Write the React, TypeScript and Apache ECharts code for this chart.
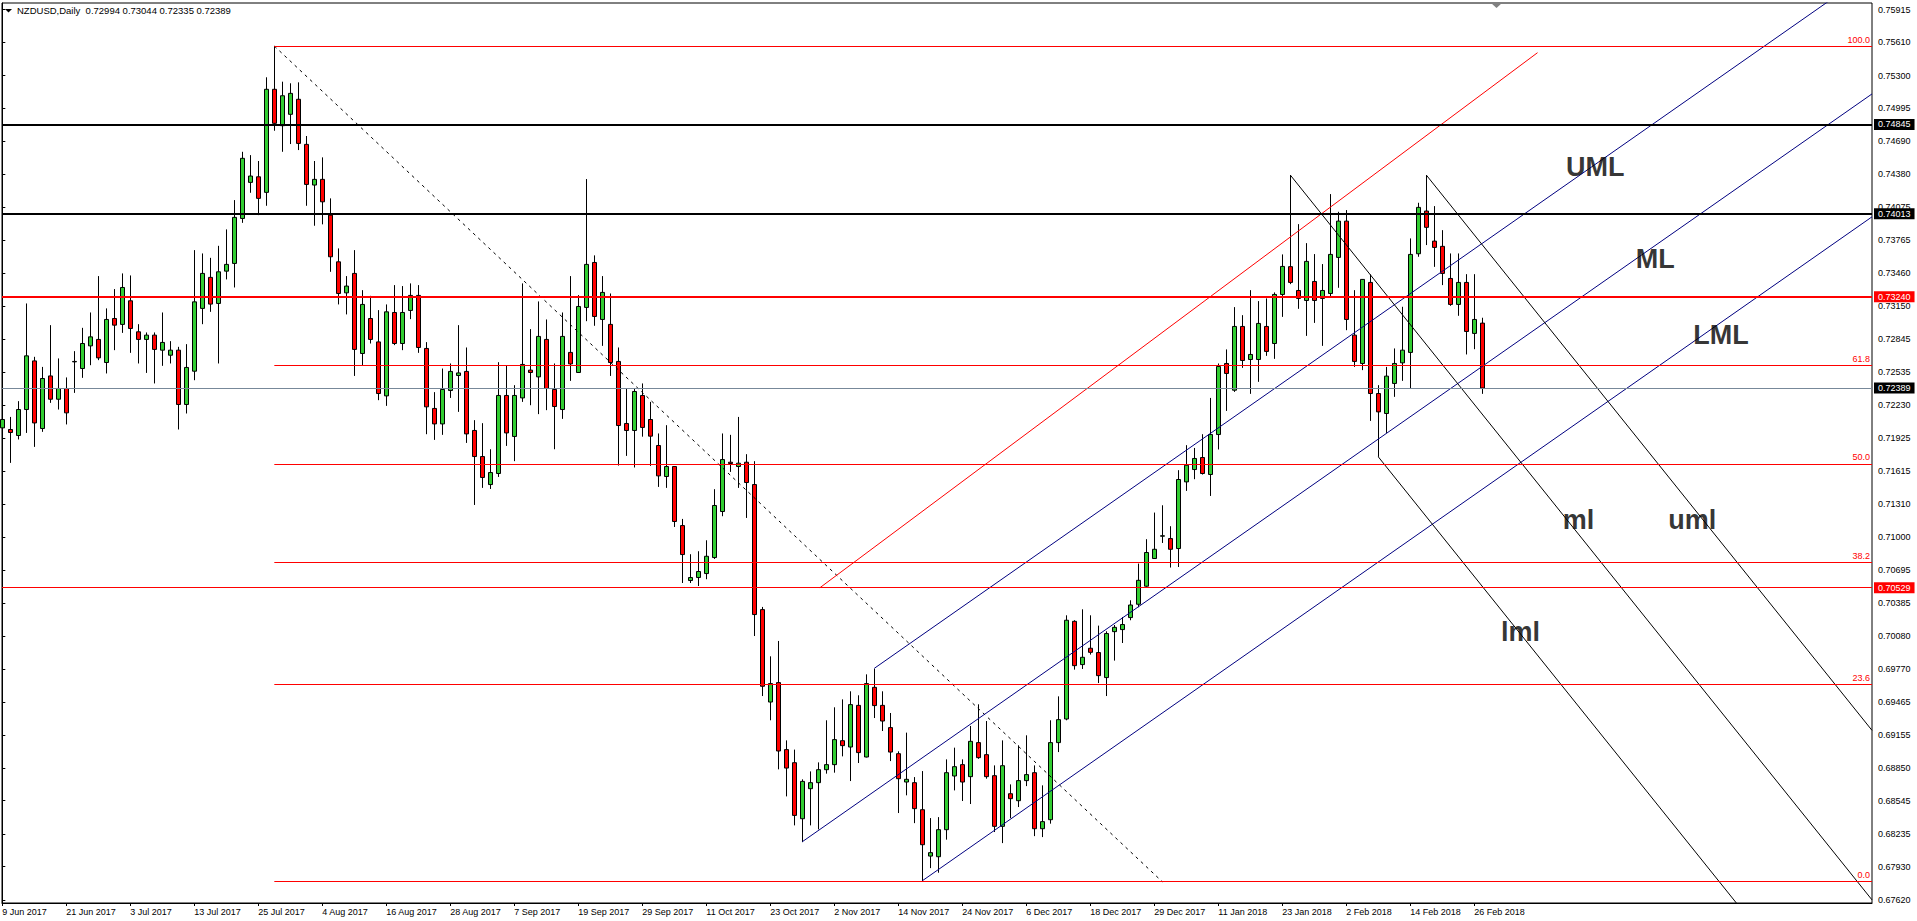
import React, { useEffect, useRef } from 'react';
import * as echarts from 'echarts';

const FONT = '"Liberation Sans", Arial, sans-serif';

// one label every 8 daily bars, starting at bar 0
const dateLabels = [
  '9 Jun 2017', '21 Jun 2017', '3 Jul 2017', '13 Jul 2017', '25 Jul 2017', '4 Aug 2017',
  '16 Aug 2017', '28 Aug 2017', '7 Sep 2017', '19 Sep 2017', '29 Sep 2017', '11 Oct 2017',
  '23 Oct 2017', '2 Nov 2017', '14 Nov 2017', '24 Nov 2017', '6 Dec 2017', '18 Dec 2017',
  '29 Dec 2017', '11 Jan 2018', '23 Jan 2018', '2 Feb 2018', '14 Feb 2018', '26 Feb 2018',
];

const priceTicks = [
  0.75915, 0.7561, 0.753, 0.74995, 0.7469, 0.7438, 0.74075, 0.73765, 0.7346, 0.7315,
  0.72845, 0.72535, 0.7223, 0.71925, 0.71615, 0.7131, 0.71, 0.70695, 0.70385, 0.7008,
  0.6977, 0.69465, 0.69155, 0.6885, 0.68545, 0.68235, 0.6793, 0.6762,
];

// NZDUSD daily, [open, high, low, close]
const ohlc: number[][] = [
  [0.72018, 0.72189, 0.71878, 0.72096], [0.72003, 0.7212, 0.71692, 0.71975], [0.71947, 0.72267, 0.7191, 0.72189],
  [0.72189, 0.73177, 0.71971, 0.72689], [0.72642, 0.7268, 0.71841, 0.72064], [0.72012, 0.72586, 0.71981, 0.72478],
  [0.72502, 0.72975, 0.72251, 0.72285], [0.72285, 0.72665, 0.72189, 0.72385], [0.72385, 0.72488, 0.7205, 0.72158],
  [0.72633, 0.72733, 0.72344, 0.72637], [0.72571, 0.7295, 0.72484, 0.72804], [0.72782, 0.73093, 0.72602, 0.72866],
  [0.72842, 0.73432, 0.72649, 0.7267], [0.72627, 0.73131, 0.72525, 0.73028], [0.73037, 0.73311, 0.72742, 0.72975],
  [0.72982, 0.73457, 0.72903, 0.73326], [0.73202, 0.73438, 0.72717, 0.72944], [0.72913, 0.72984, 0.72618, 0.72842],
  [0.72842, 0.72907, 0.7253, 0.72882], [0.72882, 0.72907, 0.72432, 0.72749], [0.72742, 0.73093, 0.72596, 0.72814],
  [0.72695, 0.72826, 0.72618, 0.72742], [0.72742, 0.72773, 0.72003, 0.72236], [0.72236, 0.72798, 0.72152, 0.72581],
  [0.72546, 0.73674, 0.72462, 0.73192], [0.73131, 0.73643, 0.72984, 0.73457], [0.7342, 0.73602, 0.73099, 0.73171],
  [0.73177, 0.73714, 0.72618, 0.73472], [0.73478, 0.73867, 0.73401, 0.73541], [0.7355, 0.7414, 0.73326, 0.73979],
  [0.73969, 0.7459, 0.73928, 0.74529], [0.74305, 0.74559, 0.74208, 0.74364], [0.74357, 0.74504, 0.74, 0.74156],
  [0.74212, 0.75284, 0.74087, 0.75172], [0.75172, 0.75575, 0.74786, 0.74855], [0.74833, 0.75243, 0.7459, 0.75112],
  [0.74939, 0.75228, 0.74662, 0.75134], [0.75079, 0.75237, 0.74606, 0.74668], [0.74659, 0.74737, 0.74087, 0.74286],
  [0.7428, 0.74504, 0.73901, 0.74333], [0.74333, 0.74538, 0.73914, 0.74124], [0.74, 0.74156, 0.73472, 0.73612],
  [0.73565, 0.7369, 0.73168, 0.7327], [0.73276, 0.73432, 0.73075, 0.73339], [0.73457, 0.73674, 0.72502, 0.72749],
  [0.72711, 0.73301, 0.72602, 0.73168], [0.73037, 0.73248, 0.72804, 0.72842], [0.72819, 0.73115, 0.72276, 0.72338],
  [0.72316, 0.73168, 0.72223, 0.73099], [0.73093, 0.73348, 0.72789, 0.72804], [0.72804, 0.73339, 0.72742, 0.73093],
  [0.73112, 0.73364, 0.73031, 0.73252], [0.73252, 0.73348, 0.72717, 0.72767], [0.72758, 0.72817, 0.71959, 0.72214],
  [0.72199, 0.72351, 0.71906, 0.72055], [0.72055, 0.72571, 0.71953, 0.72376], [0.72366, 0.72618, 0.72297, 0.72544],
  [0.72506, 0.72975, 0.72167, 0.7253], [0.72544, 0.72767, 0.71878, 0.71962], [0.71994, 0.7209, 0.713, 0.71751],
  [0.71751, 0.72062, 0.71459, 0.71556], [0.7149, 0.71819, 0.71449, 0.71602], [0.71593, 0.7263, 0.71561, 0.7232],
  [0.7232, 0.72599, 0.7185, 0.71971], [0.71938, 0.72416, 0.71708, 0.7232], [0.72297, 0.73364, 0.7226, 0.72609],
  [0.72556, 0.72938, 0.72229, 0.72534], [0.72493, 0.73196, 0.72146, 0.7287], [0.72842, 0.73028, 0.72183, 0.72385],
  [0.72376, 0.72618, 0.71819, 0.72217], [0.72189, 0.73093, 0.72102, 0.7287], [0.72721, 0.73432, 0.72456, 0.72614],
  [0.72534, 0.73255, 0.7253, 0.73149], [0.7314, 0.74336, 0.73012, 0.73541], [0.73559, 0.73625, 0.72969, 0.73056],
  [0.73028, 0.73432, 0.72782, 0.7328], [0.72982, 0.7327, 0.72502, 0.72627], [0.72637, 0.72767, 0.71667, 0.7204],
  [0.72059, 0.72385, 0.71757, 0.71994], [0.71994, 0.72385, 0.71649, 0.72357], [0.7232, 0.72432, 0.71936, 0.72022],
  [0.72096, 0.7226, 0.71664, 0.71941], [0.71854, 0.71966, 0.71468, 0.71571], [0.71565, 0.72043, 0.71459, 0.71658],
  [0.71658, 0.71662, 0.71095, 0.71146], [0.71108, 0.7117, 0.70573, 0.70838], [0.70596, 0.70841, 0.70573, 0.70624],
  [0.70624, 0.70869, 0.70545, 0.7068], [0.70661, 0.70971, 0.70608, 0.70822], [0.7081, 0.71447, 0.70797, 0.71295],
  [0.71239, 0.71966, 0.71195, 0.71723], [0.71698, 0.71953, 0.71608, 0.71686], [0.71658, 0.7212, 0.71459, 0.71689],
  [0.71698, 0.71773, 0.71179, 0.71509], [0.7149, 0.71708, 0.70079, 0.70279], [0.70325, 0.7035, 0.6952, 0.69611],
  [0.69464, 0.6989, 0.69294, 0.69636], [0.69645, 0.70033, 0.68837, 0.69008], [0.69021, 0.69107, 0.68585, 0.68849],
  [0.68899, 0.69021, 0.68315, 0.68408], [0.68377, 0.68744, 0.68159, 0.68725], [0.68657, 0.68818, 0.68315, 0.68713],
  [0.68713, 0.68902, 0.68278, 0.68834], [0.68834, 0.69294, 0.68797, 0.68881], [0.68881, 0.69415, 0.68806, 0.69114],
  [0.69104, 0.69489, 0.68958, 0.69058], [0.69045, 0.69564, 0.68728, 0.6944], [0.69433, 0.69527, 0.68896, 0.68993],
  [0.68952, 0.69722, 0.68948, 0.69636], [0.69601, 0.69775, 0.69315, 0.69431], [0.69433, 0.69564, 0.69194, 0.69287],
  [0.69226, 0.69362, 0.68914, 0.68998], [0.68983, 0.69005, 0.6843, 0.6875], [0.68719, 0.69179, 0.68595, 0.68744],
  [0.68713, 0.68765, 0.68336, 0.68471], [0.68461, 0.68821, 0.67796, 0.68135], [0.68029, 0.68383, 0.67917, 0.68061],
  [0.68023, 0.68392, 0.67874, 0.68275], [0.68275, 0.6893, 0.68182, 0.68806], [0.68775, 0.69039, 0.68641, 0.68862],
  [0.68881, 0.6893, 0.68542, 0.68719], [0.68769, 0.69241, 0.68514, 0.69098], [0.69086, 0.69443, 0.68935, 0.68946],
  [0.68974, 0.69287, 0.6875, 0.68769], [0.68778, 0.68874, 0.68253, 0.68306], [0.68306, 0.69107, 0.6815, 0.68871],
  [0.6861, 0.68697, 0.68383, 0.68564], [0.68545, 0.69061, 0.68486, 0.68732], [0.68732, 0.69154, 0.68681, 0.68788],
  [0.68806, 0.68874, 0.68215, 0.68284], [0.68284, 0.68688, 0.68206, 0.6835], [0.68368, 0.69294, 0.68331, 0.69086],
  [0.69086, 0.69517, 0.68998, 0.693], [0.69306, 0.70272, 0.69294, 0.70226], [0.70216, 0.70226, 0.69766, 0.69803],
  [0.69813, 0.70328, 0.69772, 0.69881], [0.69965, 0.70272, 0.69906, 0.69927], [0.69925, 0.70176, 0.69641, 0.6971],
  [0.69692, 0.70123, 0.6952, 0.70102], [0.7012, 0.70182, 0.6985, 0.7016], [0.70139, 0.70256, 0.70014, 0.70186],
  [0.70251, 0.70412, 0.70226, 0.70368], [0.70375, 0.70754, 0.70347, 0.70598], [0.70543, 0.70981, 0.70536, 0.70857],
  [0.70801, 0.71229, 0.70797, 0.70887], [0.71009, 0.71297, 0.70946, 0.71013], [0.70987, 0.71102, 0.70717, 0.70887],
  [0.70894, 0.71624, 0.70722, 0.71537], [0.71515, 0.71857, 0.71431, 0.7167], [0.7163, 0.71831, 0.7154, 0.71733],
  [0.71742, 0.71959, 0.71583, 0.71593], [0.71584, 0.72297, 0.71384, 0.71956], [0.71956, 0.72618, 0.71817, 0.7259],
  [0.72618, 0.72749, 0.72176, 0.72525], [0.72369, 0.73143, 0.72353, 0.72963], [0.72963, 0.73068, 0.72577, 0.72646],
  [0.72655, 0.73301, 0.72335, 0.72702], [0.72655, 0.73199, 0.72447, 0.72991], [0.72963, 0.73224, 0.72689, 0.7273],
  [0.72804, 0.7328, 0.72661, 0.73261], [0.73261, 0.73634, 0.73052, 0.73522], [0.7352, 0.74373, 0.73357, 0.73373],
  [0.73298, 0.73916, 0.73127, 0.73224], [0.73205, 0.73739, 0.72875, 0.73569], [0.73382, 0.73637, 0.72996, 0.73205],
  [0.73224, 0.73544, 0.72782, 0.73298], [0.7327, 0.74196, 0.73239, 0.73634], [0.73606, 0.74031, 0.73323, 0.73944],
  [0.73944, 0.74047, 0.72928, 0.73028], [0.72882, 0.73301, 0.72586, 0.72637], [0.72618, 0.73405, 0.72556, 0.73401],
  [0.73373, 0.73448, 0.72083, 0.72338], [0.72338, 0.72416, 0.71748, 0.72167], [0.72152, 0.72586, 0.71971, 0.725],
  [0.72432, 0.72758, 0.72307, 0.72618], [0.72624, 0.73146, 0.72456, 0.72742], [0.72721, 0.73783, 0.72385, 0.73634],
  [0.7364, 0.74115, 0.73612, 0.74072], [0.74038, 0.74373, 0.73721, 0.73886], [0.73758, 0.74084, 0.73518, 0.73699],
  [0.73709, 0.7386, 0.73348, 0.73457], [0.7341, 0.73643, 0.73155, 0.73168], [0.73168, 0.73643, 0.73062, 0.73373],
  [0.73373, 0.7345, 0.72702, 0.72916], [0.72898, 0.7345, 0.72751, 0.73028], [0.72994, 0.73044, 0.72335, 0.72389],
];

// horizontal support / resistance levels
const blackLevels = [0.74845, 0.74013];
const redLevels = [0.7324, 0.70529];

// fibonacci retracement drawn from the July high
const fibFromBar = 34;
const fibLabels = ['0.0', '23.6', '38.2', '50.0', '61.8', '100.0'];
const fibPrices = [0.6779, 0.69627, 0.70764, 0.71683, 0.72601, 0.75575];
const fibTrend = [[34, 0.75575], [145, 0.6779]];

// trend lines as [bar, price] end points
const redChannel = [[102.2, 0.70529], [191.9, 0.75513]];
const bluePitchfork = [
  [[109, 0.69778], [233.71, 0.76275]], // UML
  [[100, 0.68163], [233.71, 0.75129]], // ML
  [[115, 0.67799], [233.71, 0.73984]], // LML
];
const blackPitchfork = [
  [[178, 0.74373], [233.71, 0.692]], // uml
  [[161, 0.74373], [233.71, 0.67621]], // ml
  [[172, 0.71748], [233.71, 0.66018]], // lml
];
const lineNames = ['UML', 'ML', 'LML', 'ml', 'uml', 'lml'];
const lineNameAt = [
  [195.46, 0.74444], [204.17, 0.73593], [211.37, 0.72883],
  [195.05, 0.7116], [208.25, 0.7116], [187.34, 0.7012],
];

const X_MIN = -0.04;
const X_MAX = 233.71;
const Y_MIN = 0.67592;
const Y_MAX = 0.75976;

const tag = (bg: string) => ({
  show: true,
  position: 'end',
  distance: 2,
  formatter: (p: any) => Number(p.value).toFixed(5),
  color: '#ffffff',
  backgroundColor: bg,
  padding: [1, 4, 1, 4],
  fontSize: 9,
  fontFamily: FONT,
});

const trendSeries = (pts: number[][], color: string, type: any = 'solid') => ({
  type: 'line',
  data: pts,
  symbol: 'none',
  silent: true,
  clip: true,
  z: 4,
  lineStyle: { color, width: 1, type },
});

export default function App() {
  const chartRef = useRef<HTMLDivElement>(null);

  useEffect(() => {
    const chart = echarts.init(chartRef.current, null, { renderer: 'svg' });
    const last = ohlc[ohlc.length - 1];
    const lastClose = last[3];
    const header = `NZDUSD,Daily  ${last.map((v) => v.toFixed(5)).join(' ')}`;
    const tickBars = dateLabels.map((_, i) => i * 8);

    const levelLines: any[] = [
      ...blackLevels.map((v) => ({ yAxis: v, lineStyle: { color: '#000000', width: 2, type: 'solid' }, label: tag('#000000') })),
      { yAxis: redLevels[0], lineStyle: { color: '#ff0000', width: 2, type: 'solid' }, label: tag('#ff0000') },
      { yAxis: redLevels[1], lineStyle: { color: '#ff0000', width: 1, type: 'solid' }, label: tag('#ff0000') },
      { yAxis: lastClose, lineStyle: { color: '#778899', width: 1, type: 'solid' }, label: tag('#000000') },
    ];
    const fibLines: any[] = fibPrices.map((p, i) => [
      {
        coord: [fibFromBar, p],
        lineStyle: { color: '#ff0000', width: 1, type: 'solid' },
        label: {
          show: true,
          position: 'insideEndTop',
          distance: 2,
          formatter: fibLabels[i],
          color: '#ff0000',
          fontSize: 9,
          fontFamily: FONT,
        },
      },
      { coord: [X_MAX, p] },
    ]);

    const option: any = {
      animation: false,
      backgroundColor: '#ffffff',
      grid: {
        left: 2, top: 3, right: 45, bottom: 18,
        show: true, borderColor: '#000000', borderWidth: 1,
        outerBoundsMode: 'none',
      },
      xAxis: {
        type: 'value',
        min: X_MIN,
        max: X_MAX,
        axisLine: { show: true, onZero: false, lineStyle: { color: '#000000', width: 1 } },
        axisTick: { show: true, customValues: tickBars, length: 3, lineStyle: { color: '#000000' } },
        axisLabel: {
          customValues: tickBars,
          formatter: (v: number) => dateLabels[Math.round(v / 8)] ?? '',
          align: 'left',
          margin: 4,
          fontSize: 9,
          color: '#000000',
          fontFamily: FONT,
        },
        splitLine: { show: false },
      },
      yAxis: {
        type: 'value',
        position: 'right',
        min: Y_MIN,
        max: Y_MAX,
        axisLine: { show: true, lineStyle: { color: '#000000', width: 1 } },
        axisTick: { show: true, customValues: priceTicks, length: 3, lineStyle: { color: '#000000' } },
        axisLabel: {
          customValues: priceTicks,
          formatter: (v: number) => v.toFixed(5),
          margin: 6,
          fontSize: 9,
          color: '#000000',
          fontFamily: FONT,
        },
        splitLine: { show: false },
      },
      graphic: [
        { type: 'polygon', shape: { points: [[5, 9], [12, 9], [8.5, 12.5]] }, style: { fill: '#000000' } },
        {
          type: 'text', x: 17, y: 10,
          style: { text: header, fill: '#000000', fontSize: 9.5, fontFamily: FONT, verticalAlign: 'middle' },
        },
        { type: 'polygon', shape: { points: [[1491, 3], [1502, 3], [1496.5, 8]] }, style: { fill: '#808080' } },
      ],
      series: [
        {
          type: 'candlestick',
          data: ohlc.map((d, i) => [i, d[0], d[3], d[2], d[1]]),
          barWidth: 4,
          z: 2,
          silent: true,
          itemStyle: {
            color: '#32cd32',
            color0: '#ff0000',
            borderColor: '#000000',
            borderColor0: '#000000',
            borderWidth: 1,
          },
        },
        {
          ...trendSeries(fibTrend, '#000000', [3, 4]),
          markLine: {
            symbol: 'none',
            silent: true,
            animation: false,
            precision: 5,
            data: [...levelLines, ...fibLines],
          },
        },
        trendSeries(redChannel, '#ff0000'),
        ...bluePitchfork.map((l) => trendSeries(l, '#000080')),
        ...blackPitchfork.map((l) => trendSeries(l, '#000000')),
        {
          type: 'scatter',
          symbolSize: 0.1,
          silent: true,
          z: 6,
          itemStyle: { color: 'transparent' },
          data: lineNames.map((n, i) => ({ name: n, value: lineNameAt[i] })),
          label: {
            show: true,
            position: 'right',
            distance: 0,
            formatter: '{b}',
            fontSize: 27,
            fontWeight: 'bold',
            color: '#000000',
            fontFamily: FONT,
          },
        },
      ],
    };

    chart.setOption(option);
    return () => {
      chart.dispose();
    };
  }, []);

  return (
    <div
      ref={chartRef}
      style={{ position: 'fixed', left: 0, top: 0, width: '1917px', height: '921px', background: '#fff' }}
    />
  );
}
